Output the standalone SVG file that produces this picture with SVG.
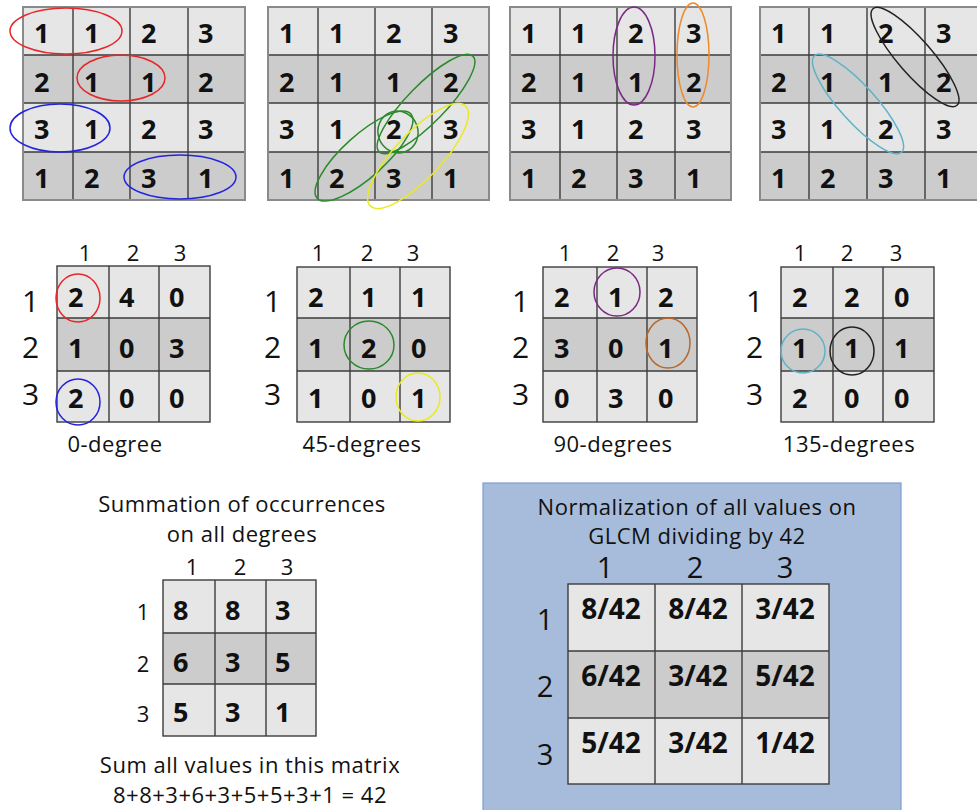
<svg xmlns="http://www.w3.org/2000/svg" width="977" height="810" viewBox="0 0 977 810">
<style>
.bg{fill:#ffffff}
.lt{fill:#e6e6e6}
.dk{fill:#cccccc}
.grid{fill:none;stroke:#3c3c3c;stroke-width:1.4}
.outer{fill:none;stroke:#8a8a8a;stroke-width:2}
.v{font-family:"Open Sans","Liberation Sans",sans-serif;font-weight:bold;font-size:27px;fill:#111}
.vn{font-family:"Open Sans","Liberation Sans",sans-serif;font-weight:bold;font-size:28px;fill:#111;text-anchor:middle}
.h{font-family:"Open Sans","Liberation Sans",sans-serif;font-size:22px;fill:#111;text-anchor:middle}
.rh{font-family:"Open Sans","Liberation Sans",sans-serif;font-size:30px;fill:#111}
.big{font-family:"Open Sans","Liberation Sans",sans-serif;font-size:29px;fill:#111;text-anchor:middle}
.cap{font-family:"Open Sans","Liberation Sans",sans-serif;font-size:22px;letter-spacing:0.5px;fill:#111;text-anchor:middle}
.ring{fill:none;stroke-width:1.5}
</style>
<rect class="bg" x="0" y="0" width="977" height="810"/>

<!-- Top matrix 1 -->
<g id="img-0deg">
<rect class="lt" x="23" y="7" width="222" height="48"/>
<rect class="dk" x="23" y="55" width="222" height="48"/>
<rect class="lt" x="23" y="103" width="222" height="49"/>
<rect class="dk" x="23" y="152" width="222" height="48"/>
<path class="grid" d="M73 7V200M130 7V200M188 7V200M23 55H245M23 103H245M23 152H245"/>
<rect class="outer" x="23" y="7" width="222" height="193"/>
<g class="v">
<text x="34" y="43">1</text><text x="84" y="43">1</text><text x="141" y="43">2</text><text x="198" y="43">3</text>
<text x="34" y="92">2</text><text x="84" y="92">1</text><text x="141" y="92">1</text><text x="198" y="92">2</text>
<text x="34" y="139">3</text><text x="84" y="139">1</text><text x="141" y="139">2</text><text x="198" y="139">3</text>
<text x="34" y="188">1</text><text x="84" y="188">2</text><text x="141" y="188">3</text><text x="198" y="188">1</text>
</g>
<ellipse class="ring" stroke="#e8272a" cx="66" cy="31" rx="56" ry="23"/>
<ellipse class="ring" stroke="#e8272a" cx="121" cy="78" rx="44" ry="23"/>
<ellipse class="ring" stroke="#2424e0" cx="60" cy="128" rx="50" ry="24"/>
<ellipse class="ring" stroke="#2424e0" cx="180" cy="177" rx="56" ry="22"/>
</g>

<!-- Top matrix 2 -->
<g id="img-45deg">
<rect class="lt" x="268" y="7" width="221" height="48"/>
<rect class="dk" x="268" y="55" width="221" height="48"/>
<rect class="lt" x="268" y="103" width="221" height="49"/>
<rect class="dk" x="268" y="152" width="221" height="48"/>
<path class="grid" d="M318 7V200M375 7V200M432 7V200M268 55H489M268 103H489M268 152H489"/>
<rect class="outer" x="268" y="7" width="221" height="193"/>
<g class="v">
<text x="279" y="43">1</text><text x="329" y="43">1</text><text x="386" y="43">2</text><text x="443" y="43">3</text>
<text x="279" y="92">2</text><text x="329" y="92">1</text><text x="386" y="92">1</text><text x="443" y="92">2</text>
<text x="279" y="139">3</text><text x="329" y="139">1</text><text x="386" y="139">2</text><text x="443" y="139">3</text>
<text x="279" y="188">1</text><text x="329" y="188">2</text><text x="386" y="188">3</text><text x="443" y="188">1</text>
</g>
<ellipse class="ring" stroke="#2b8a2b" cx="426" cy="104" rx="67" ry="19" transform="rotate(-45.6 426 104)"/>
<ellipse class="ring" stroke="#2b8a2b" cx="398" cy="132" rx="20" ry="21" transform="rotate(-20 398 132)"/>
<ellipse class="ring" stroke="#2b8a2b" cx="364" cy="156" rx="63" ry="21" transform="rotate(-42 364 156)"/>
<ellipse class="ring" stroke="#eaea1e" cx="418" cy="156" rx="69" ry="23" transform="rotate(-46.5 418 156)"/>
</g>

<!-- Top matrix 3 -->
<g id="img-90deg">
<rect class="lt" x="510" y="7" width="221" height="48"/>
<rect class="dk" x="510" y="55" width="221" height="48"/>
<rect class="lt" x="510" y="103" width="221" height="49"/>
<rect class="dk" x="510" y="152" width="221" height="48"/>
<path class="grid" d="M560 7V200M617 7V200M675 7V200M510 55H731M510 103H731M510 152H731"/>
<rect class="outer" x="510" y="7" width="221" height="193"/>
<g class="v">
<text x="521" y="43">1</text><text x="571" y="43">1</text><text x="628" y="43">2</text><text x="686" y="43">3</text>
<text x="521" y="92">2</text><text x="571" y="92">1</text><text x="628" y="92">1</text><text x="686" y="92">2</text>
<text x="521" y="139">3</text><text x="571" y="139">1</text><text x="628" y="139">2</text><text x="686" y="139">3</text>
<text x="521" y="188">1</text><text x="571" y="188">2</text><text x="628" y="188">3</text><text x="686" y="188">1</text>
</g>
<ellipse class="ring" stroke="#7b2a84" cx="634" cy="56" rx="21" ry="49"/>
<ellipse class="ring" stroke="#ef8a2a" cx="693" cy="55" rx="16" ry="52"/>
</g>

<!-- Top matrix 4 -->
<g id="img-135deg">
<rect class="lt" x="760" y="7" width="222" height="48"/>
<rect class="dk" x="760" y="55" width="222" height="48"/>
<rect class="lt" x="760" y="103" width="222" height="49"/>
<rect class="dk" x="760" y="152" width="222" height="48"/>
<path class="grid" d="M809 7V200M867 7V200M925 7V200M760 55H982M760 103H982M760 152H982"/>
<rect class="outer" x="760" y="7" width="222" height="193"/>
<g class="v">
<text x="771" y="43">1</text><text x="820" y="43">1</text><text x="878" y="43">2</text><text x="936" y="43">3</text>
<text x="771" y="92">2</text><text x="820" y="92">1</text><text x="878" y="92">1</text><text x="936" y="92">2</text>
<text x="771" y="139">3</text><text x="820" y="139">1</text><text x="878" y="139">2</text><text x="936" y="139">3</text>
<text x="771" y="188">1</text><text x="820" y="188">2</text><text x="878" y="188">3</text><text x="936" y="188">1</text>
</g>
<ellipse class="ring" stroke="#222" cx="915" cy="57" rx="64" ry="17" transform="rotate(49 915 57)"/>
<ellipse class="ring" stroke="#5fb3c8" cx="858" cy="104" rx="65" ry="18" transform="rotate(48 858 104)"/>
</g>

<!-- GLCM 0 degree -->
<g id="glcm-0">
<rect class="lt" x="57" y="266" width="153" height="52"/>
<rect class="dk" x="57" y="318" width="153" height="53"/>
<rect class="lt" x="57" y="371" width="153" height="51"/>
<path class="grid" d="M109 266V422M159 266V422M57 318H210M57 371H210"/>
<rect class="grid" x="57" y="266" width="153" height="156"/>
<text class="h" x="85" y="261">1</text><text class="h" x="133" y="261">2</text><text class="h" x="180" y="261">3</text>
<text class="rh" x="22" y="312">1</text><text class="rh" x="22" y="358">2</text><text class="rh" x="22" y="405">3</text>
<g class="v">
<text x="68" y="307">2</text><text x="119" y="307">4</text><text x="169" y="307">0</text>
<text x="68" y="358">1</text><text x="119" y="358">0</text><text x="169" y="358">3</text>
<text x="68" y="408">2</text><text x="119" y="408">0</text><text x="169" y="408">0</text>
</g>
<ellipse class="ring" stroke="#e8272a" cx="78" cy="298" rx="22" ry="24"/>
<ellipse class="ring" stroke="#2424e0" cx="78" cy="402" rx="22" ry="23"/>
<text class="cap" x="115" y="452">0-degree</text>
</g>

<!-- GLCM 45 degrees -->
<g id="glcm-45">
<rect class="lt" x="297" y="267" width="153" height="51"/>
<rect class="dk" x="297" y="318" width="153" height="53"/>
<rect class="lt" x="297" y="371" width="153" height="51"/>
<path class="grid" d="M350 267V422M400 267V422M297 318H450M297 371H450"/>
<rect class="grid" x="297" y="267" width="153" height="155"/>
<text class="h" x="318" y="261">1</text><text class="h" x="367" y="261">2</text><text class="h" x="413" y="261">3</text>
<text class="rh" x="264" y="312">1</text><text class="rh" x="264" y="358">2</text><text class="rh" x="264" y="405">3</text>
<g class="v">
<text x="308" y="307">2</text><text x="361" y="307">1</text><text x="411" y="307">1</text>
<text x="308" y="358">1</text><text x="361" y="358">2</text><text x="411" y="358">0</text>
<text x="308" y="408">1</text><text x="361" y="408">0</text><text x="411" y="408">1</text>
</g>
<ellipse class="ring" stroke="#2b8a2b" cx="369" cy="345" rx="25" ry="24"/>
<ellipse class="ring" stroke="#eaea1e" cx="418" cy="397" rx="22" ry="24"/>
<text class="cap" x="362" y="452">45-degrees</text>
</g>

<!-- GLCM 90 degrees -->
<g id="glcm-90">
<rect class="lt" x="543" y="267" width="154" height="51"/>
<rect class="dk" x="543" y="318" width="154" height="53"/>
<rect class="lt" x="543" y="371" width="154" height="51"/>
<path class="grid" d="M597 267V422M647 267V422M543 318H697M543 371H697"/>
<rect class="grid" x="543" y="267" width="154" height="155"/>
<text class="h" x="565" y="261">1</text><text class="h" x="613" y="261">2</text><text class="h" x="658" y="261">3</text>
<text class="rh" x="512" y="312">1</text><text class="rh" x="512" y="358">2</text><text class="rh" x="512" y="405">3</text>
<g class="v">
<text x="554" y="307">2</text><text x="608" y="307">1</text><text x="658" y="307">2</text>
<text x="554" y="358">3</text><text x="608" y="358">0</text><text x="658" y="358">1</text>
<text x="554" y="408">0</text><text x="608" y="408">3</text><text x="658" y="408">0</text>
</g>
<ellipse class="ring" stroke="#7b2a84" cx="617" cy="292" rx="23" ry="24"/>
<ellipse class="ring" stroke="#b8662a" cx="668" cy="343" rx="22" ry="25"/>
<text class="cap" x="613" y="452">90-degrees</text>
</g>

<!-- GLCM 135 degrees -->
<g id="glcm-135">
<rect class="lt" x="781" y="267" width="153" height="51"/>
<rect class="dk" x="781" y="318" width="153" height="53"/>
<rect class="lt" x="781" y="371" width="153" height="51"/>
<path class="grid" d="M833 267V422M883 267V422M781 318H934M781 371H934"/>
<rect class="grid" x="781" y="267" width="153" height="155"/>
<text class="h" x="800" y="261">1</text><text class="h" x="847" y="261">2</text><text class="h" x="896" y="261">3</text>
<text class="rh" x="746" y="312">1</text><text class="rh" x="746" y="358">2</text><text class="rh" x="746" y="405">3</text>
<g class="v">
<text x="792" y="307">2</text><text x="844" y="307">2</text><text x="894" y="307">0</text>
<text x="792" y="358">1</text><text x="844" y="358">1</text><text x="894" y="358">1</text>
<text x="792" y="408">2</text><text x="844" y="408">0</text><text x="894" y="408">0</text>
</g>
<ellipse class="ring" stroke="#5fb3c8" cx="803" cy="351" rx="22" ry="22"/>
<ellipse class="ring" stroke="#222" cx="852" cy="351" rx="22" ry="24"/>
<text class="cap" x="849" y="452">135-degrees</text>
</g>

<!-- Summation -->
<g id="summation">
<text class="cap" x="242" y="512">Summation of occurrences</text>
<text class="cap" x="242" y="542">on all degrees</text>
<text class="h" x="192" y="575">1</text><text class="h" x="240" y="575">2</text><text class="h" x="287" y="575">3</text>
<rect class="lt" x="163" y="580" width="153" height="53"/>
<rect class="dk" x="163" y="633" width="153" height="51"/>
<rect class="lt" x="163" y="684" width="153" height="52"/>
<path class="grid" d="M215 580V736M266 580V736M163 633H316M163 684H316"/>
<rect class="grid" x="163" y="580" width="153" height="156"/>
<text class="h" x="143" y="620">1</text><text class="h" x="143" y="672">2</text><text class="h" x="143" y="722">3</text>
<g class="v">
<text x="173" y="620">8</text><text x="225" y="620">8</text><text x="275" y="620">3</text>
<text x="173" y="672">6</text><text x="225" y="672">3</text><text x="275" y="672">5</text>
<text x="173" y="722">5</text><text x="225" y="722">3</text><text x="275" y="722">1</text>
</g>
<text class="cap" x="250" y="773">Sum all values in this matrix</text>
<text class="cap" x="250" y="803">8+8+3+6+3+5+5+3+1 = 42</text>
</g>

<!-- Normalization -->
<g id="normalization">
<rect x="483" y="483" width="418" height="340" fill="#a7bcda" stroke="#7c9dd2" stroke-width="1.2"/>
<text class="cap" x="697" y="515">Normalization of all values on</text>
<text class="cap" x="697" y="544">GLCM dividing by 42</text>
<text class="big" x="605" y="578">1</text><text class="big" x="695" y="578">2</text><text class="big" x="785" y="578">3</text>
<rect class="lt" x="568" y="584" width="261" height="67"/>
<rect class="dk" x="568" y="651" width="261" height="67"/>
<rect class="lt" x="568" y="718" width="261" height="66"/>
<path class="grid" d="M655 584V784M742 584V784M568 651H829M568 718H829"/>
<rect class="grid" x="568" y="584" width="261" height="200"/>
<text class="big" x="545" y="630">1</text><text class="big" x="545" y="697">2</text><text class="big" x="545" y="765">3</text>
<g class="vn">
<text x="611" y="619">8/42</text><text x="698" y="619">8/42</text><text x="785" y="619">3/42</text>
<text x="611" y="686">6/42</text><text x="698" y="686">3/42</text><text x="785" y="686">5/42</text>
<text x="611" y="753">5/42</text><text x="698" y="753">3/42</text><text x="785" y="753">1/42</text>
</g>
</g>
</svg>
